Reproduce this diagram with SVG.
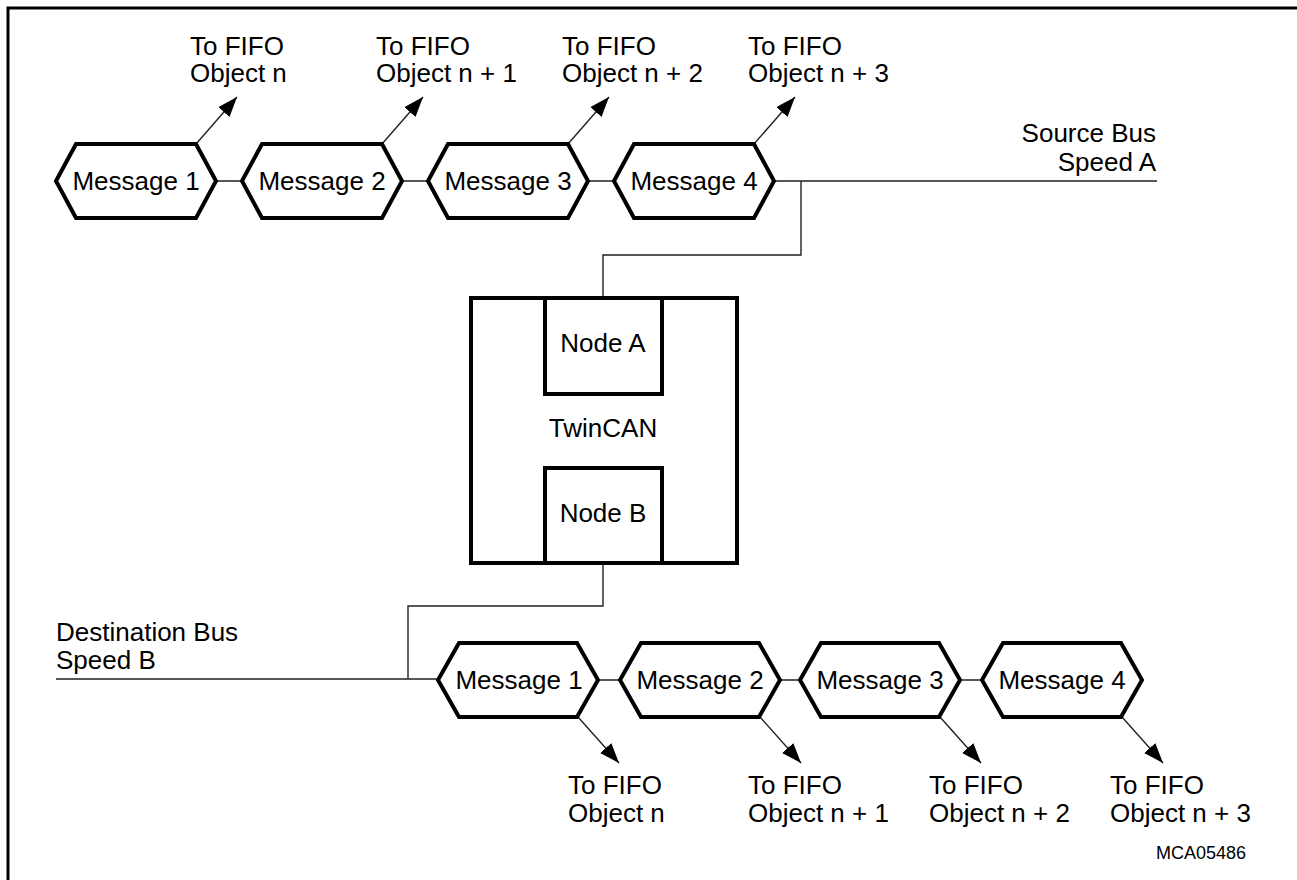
<svg xmlns="http://www.w3.org/2000/svg" width="1297" height="880" viewBox="0 0 1297 880">
<style>
text{font-family:"Liberation Sans",Arial,sans-serif;font-size:26px;fill:#000}
.hex{fill:#fff;stroke:#000;stroke-width:4;stroke-linejoin:miter}
.box{fill:#fff;stroke:#000;stroke-width:4}
.ln{fill:none;stroke:#222;stroke-width:1.4}
.c{text-anchor:middle}
.r{text-anchor:end}
.frame{fill:none;stroke:#000;stroke-width:3}
</style>
<defs>
<marker id="ah" markerUnits="userSpaceOnUse" markerWidth="22" markerHeight="18" refX="20" refY="7.5" orient="auto">
<path d="M0,0 L20,7.5 L0,15 z" fill="#000"/>
</marker>
</defs>
<rect width="1297" height="880" fill="#fff"/>
<path class="frame" d="M8,880 L8,8 L1297,8"/>

<g id="connectors">
<path class="ln" d="M216,181 H242 M402,181 H428 M588,181 H614 M774,181 H1157"/>
<path class="ln" d="M801,181 V255 H603 V298"/>
<path class="ln" d="M603,563 V606 H408 V679"/>
<path class="ln" d="M56,679 H438 M598,680 H620 M780,680 H800 M960,680 H982"/>
<line class="ln" x1="196" y1="144" x2="237" y2="97" marker-end="url(#ah)"/>
<line class="ln" x1="382" y1="144" x2="423" y2="97" marker-end="url(#ah)"/>
<line class="ln" x1="568" y1="144" x2="609" y2="97" marker-end="url(#ah)"/>
<line class="ln" x1="754" y1="144" x2="795" y2="97" marker-end="url(#ah)"/>
<line class="ln" x1="578" y1="717" x2="619" y2="763" marker-end="url(#ah)"/>
<line class="ln" x1="760" y1="717" x2="801" y2="763" marker-end="url(#ah)"/>
<line class="ln" x1="940" y1="717" x2="981" y2="763" marker-end="url(#ah)"/>
<line class="ln" x1="1122" y1="717" x2="1163" y2="763" marker-end="url(#ah)"/>
</g>

<g id="src-msg1"><polygon class="hex" points="56,181 76,144 196,144 216,181 196,218 76,218"/><text class="c" x="136" y="190">Message 1</text></g>
<g id="src-msg2"><polygon class="hex" points="242,181 262,144 382,144 402,181 382,218 262,218"/><text class="c" x="322" y="190">Message 2</text></g>
<g id="src-msg3"><polygon class="hex" points="428,181 448,144 568,144 588,181 568,218 448,218"/><text class="c" x="508" y="190">Message 3</text></g>
<g id="src-msg4"><polygon class="hex" points="614,181 634,144 754,144 774,181 754,218 634,218"/><text class="c" x="694" y="190">Message 4</text></g>

<g id="src-labels">
<text x="190" y="55">To FIFO</text><text x="190" y="82">Object n</text>
<text x="376" y="55">To FIFO</text><text x="376" y="82">Object n + 1</text>
<text x="562" y="55">To FIFO</text><text x="562" y="82">Object n + 2</text>
<text x="748" y="55">To FIFO</text><text x="748" y="82">Object n + 3</text>
</g>
<g id="source-bus"><text class="r" x="1156" y="142">Source Bus</text><text class="r" x="1156" y="171">Speed A</text></g>

<g id="twincan">
<rect class="box" x="471" y="298" width="266" height="265"/>
<text class="c" x="603" y="437">TwinCAN</text>
</g>
<g id="nodeA"><rect class="box" x="545" y="298" width="117" height="96"/><text class="c" x="603" y="352">Node A</text></g>
<g id="nodeB"><rect class="box" x="545" y="468" width="117" height="95"/><text class="c" x="603" y="522">Node B</text></g>

<g id="dest-bus"><text x="56" y="641">Destination Bus</text><text x="56" y="669">Speed B</text></g>

<g id="dst-msg1"><polygon class="hex" points="438,680 459,643 577,643 598,680 577,717 459,717"/><text class="c" x="519" y="689">Message 1</text></g>
<g id="dst-msg2"><polygon class="hex" points="620,680 641,643 759,643 780,680 759,717 641,717"/><text class="c" x="700" y="689">Message 2</text></g>
<g id="dst-msg3"><polygon class="hex" points="800,680 821,643 939,643 960,680 939,717 821,717"/><text class="c" x="880" y="689">Message 3</text></g>
<g id="dst-msg4"><polygon class="hex" points="982,680 1003,643 1121,643 1142,680 1121,717 1003,717"/><text class="c" x="1062" y="689">Message 4</text></g>

<g id="dst-labels">
<text x="568" y="794">To FIFO</text><text x="568" y="822">Object n</text>
<text x="748" y="794">To FIFO</text><text x="748" y="822">Object n + 1</text>
<text x="929" y="794">To FIFO</text><text x="929" y="822">Object n + 2</text>
<text x="1110" y="794">To FIFO</text><text x="1110" y="822">Object n + 3</text>
</g>
<text class="r" x="1246" y="859" style="font-size:18px">MCA05486</text>
</svg>
